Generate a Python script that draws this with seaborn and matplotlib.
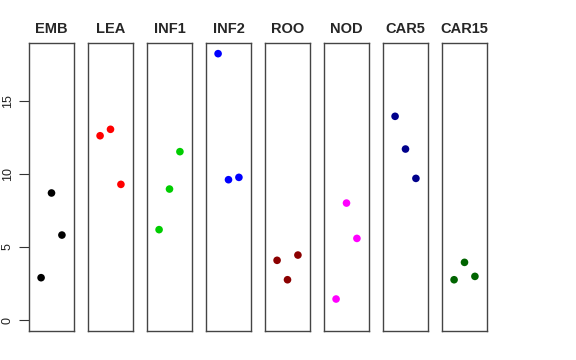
import numpy as np
import pandas as pd
import matplotlib
matplotlib.use("Agg")
import matplotlib.pyplot as plt
import seaborn as sns

# ==========================
# DATA
# ==========================
tissues = ["EMB", "LEA", "INF1", "INF2", "ROO", "NOD", "CAR5", "CAR15"]
replicate = [1, 2, 3]
emb = [2.90, 8.70, 5.82]
lea = [12.62, 13.06, 9.29]
inf1 = [6.19, 8.97, 11.53]
inf2 = [18.24, 9.61, 9.77]
roo = [4.09, 2.76, 4.45]
nod = [1.44, 8.01, 5.59]
car5 = [13.95, 11.71, 9.70]
car15 = [2.76, 3.95, 2.99]
colors = ["black", "red", "#00CD00", "blue", "#8B0000", "magenta", "#00008B", "#006400"]
y_ticks = [0, 5, 10, 15]

values = [emb, lea, inf1, inf2, roo, nod, car5, car15]
df = pd.DataFrame({
    "tissue": np.repeat(tissues, len(replicate)),
    "rep": replicate * len(tissues),
    "expr": np.concatenate(values),
})

# ==========================
# PLOT
# ==========================
sns.set_style("white")
plt.rcParams["font.family"] = ["Liberation Sans", "DejaVu Sans"]

fig = plt.figure(figsize=(5.76, 3.6), dpi=100)
W, H = 576, 360
left0, step, width = 29, 59, 45
top, bottom = 43, 331

for i, t in enumerate(tissues):
    ax = fig.add_axes([(left0 + i * step) / W, (H - bottom) / H,
                       width / W, (bottom - top) / H])
    sub = df[df["tissue"] == t]
    sns.scatterplot(data=sub, x="rep", y="expr", color=colors[i], s=30,
                    edgecolor="none", ax=ax)
    ax.set_xlim(-0.16, 4.16)
    ax.set_ylim(-0.75, 18.97)
    ax.set_xticks([])
    ax.set_xlabel("")
    ax.set_ylabel("")
    ax.set_title(t, fontsize=10.5, fontweight="bold", pad=7)
    for sp in ax.spines.values():
        sp.set_color("#444444")
        sp.set_linewidth(1.0)
        sp.set_visible(True)
    if i == 0:
        ax.set_yticks(y_ticks)
        ax.set_yticklabels([str(v) for v in y_ticks], rotation=90,
                           va="center", fontsize=9, color="#222222")
        ax.tick_params(axis="y", length=7, width=0.8, color="#333333",
                       pad=4, left=True)
    else:
        ax.set_yticks([])

fig.savefig("out.png", dpi=100)
plt.close(fig)
